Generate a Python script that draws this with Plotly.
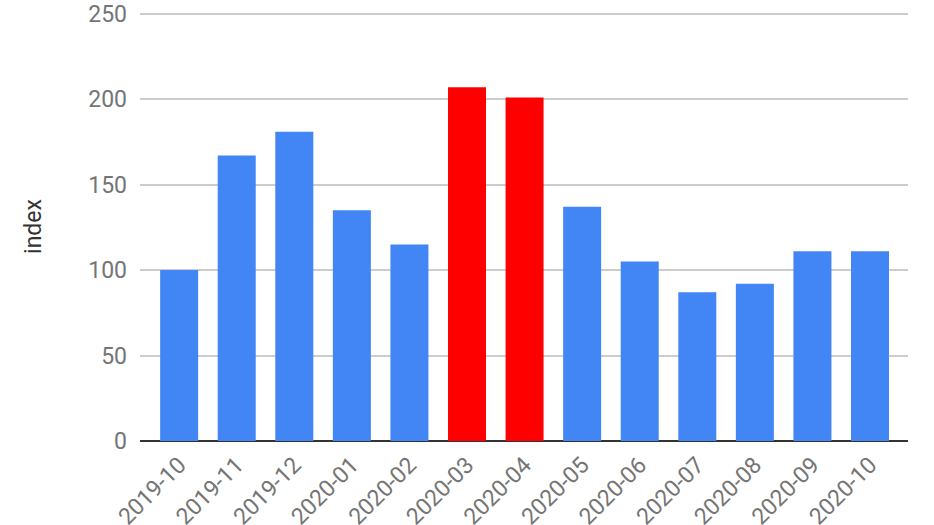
import plotly.graph_objects as go

months = ['2019-10', '2019-11', '2019-12', '2020-01', '2020-02', '2020-03', '2020-04',
          '2020-05', '2020-06', '2020-07', '2020-08', '2020-09', '2020-10']
index_values = [100, 167, 181, 135, 115, 207, 201, 137, 105, 87, 92, 111, 111]
highlight = ['2020-03', '2020-04']

colors = ['#ff0000' if m in highlight else '#4285f4' for m in months]

fig = go.Figure()
fig.add_trace(go.Bar(
    x=months,
    y=index_values,
    marker=dict(color=colors, line=dict(width=0)),
    hoverinfo='none'
))

fig.update_layout(
    width=934, height=525,
    showlegend=False,
    plot_bgcolor='white',
    paper_bgcolor='white',
    margin=dict(l=140, r=26, t=12, b=84),
    bargap=0.34,
    font=dict(family='Roboto', size=23, color='#757575'),
)
fig.update_xaxes(
    type='category',
    range=[-0.68, 12.66],
    tickangle=-45,
    showgrid=False,
    showline=False,
    ticks='',
    ticklabelstandoff=5,
    automargin=False,
    tickfont=dict(size=23, color='#757575'),
)
# range goes a hair past 250 so plotly keeps the top gridline
fig.update_yaxes(
    range=[0, 251],
    tickvals=[0, 50, 100, 150, 200, 250],
    showgrid=True,
    gridcolor='#cccccc',
    gridwidth=1.5,
    zeroline=True,
    zerolinecolor='#333333',
    zerolinewidth=2,
    ticks='',
    ticklabelstandoff=12,
    automargin=False,
    tickfont=dict(size=23, color='#757575'),
    title=dict(text='index', font=dict(size=23, color='#333333'), standoff=40),
)

# drop the default 8px page margin so the chart sits flush with the window
fig.write_html("out.html", config={'displayModeBar': False},
               post_script="document.body.style.margin='0';")
